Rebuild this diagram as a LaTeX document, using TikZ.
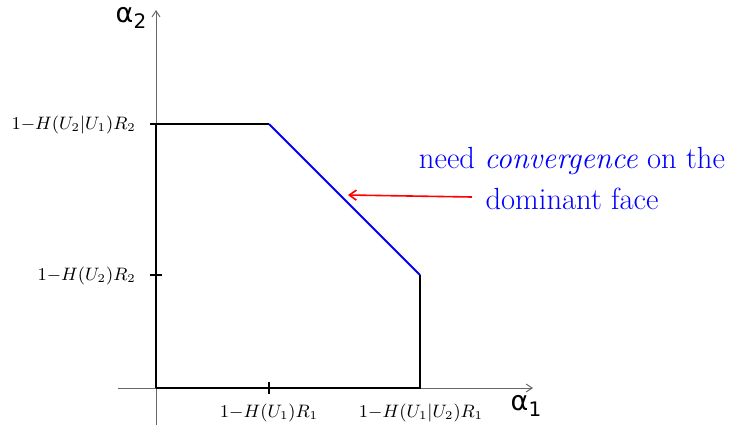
\documentclass[tikz,border=0pt]{standalone}
\usepackage{fontspec}
\newfontfamily\dejavu{DejaVu Sans}
\usetikzlibrary{arrows.meta}
\begin{document}
\begin{tikzpicture}[x=0.5pt,y=-0.5pt,
  axis/.style={draw=black!60,line width=0.5pt,-{Straight Barb[length=3pt,width=4pt]}},
  edge/.style={draw=black,line width=0.9pt},
  face/.style={draw=blue,line width=0.9pt},
  tick/.style={draw=black,line width=0.8pt},
  ticklab/.style={font=\fontsize{8.8}{10}\selectfont,inner sep=0pt},
  axlab/.style={font=\fontsize{13.5}{15}\dejavu,inner sep=0pt},
  note/.style={font=\fontsize{15.3}{18}\selectfont,text=blue,align=center,inner sep=0pt},
  pointer/.style={draw=red,line width=0.8pt,-{Straight Barb[length=3.5pt,width=5pt]}}]
\useasboundingbox (0,0) rectangle (735,425);
% axes
\coordinate (xs) at (118,388);
\coordinate (xe) at (533,388);
\coordinate (ys) at (156,425);
\coordinate (ye) at (156,10);
\draw[axis] (xs) -- (xe);
\draw[axis] (ys) -- (ye);
% region vertices
\coordinate (O) at (156,388);
\coordinate (A) at (156,124);
\coordinate (B) at (269,124);
\coordinate (C) at (420,275);
\coordinate (D) at (420,388);
\draw[edge] (O) -- (A) -- (B);
\draw[face] (B) -- (C);
\draw[edge] (C) -- (D) -- (O);
% ticks
\coordinate (tx1) at (269,388);
\coordinate (ty2) at (156,275);
\draw[tick] ([yshift=3pt]tx1) -- ([yshift=-3pt]tx1);
\draw[tick] ([xshift=-3pt]A) -- ([xshift=3pt]A);
\draw[tick] ([xshift=-3pt]ty2) -- ([xshift=3pt]ty2);
% tick labels
\node[ticklab] (lx1) at (269,413) {$1{-}H(U_1)R_1$};
\node[ticklab] (lx2) at (421,413) {$1{-}H(U_1|U_2)R_1$};
\node[ticklab,anchor=east] (ly1) at (136,125) {$1{-}H(U_2|U_1)R_2$};
\node[ticklab,anchor=east] (ly2) at (136,276) {$1{-}H(U_2)R_2$};
% axis labels
\node[axlab] (a1) at (526,406) {α\raisebox{-0.35ex}{\fontsize{10}{11}\selectfont 1}};
\node[axlab] (a2) at (131,18) {α\raisebox{-0.35ex}{\fontsize{10}{11}\selectfont 2}};
% annotation
\node[note] (n1) at (572,161) {need \textit{convergence} on the};
\node[note] (n2) at (572,199) {dominant face};
\coordinate (tail) at (472,197);
\coordinate (tip) at (348,195);
\draw[pointer] (tail) -- (tip);
\end{tikzpicture}
\end{document}
